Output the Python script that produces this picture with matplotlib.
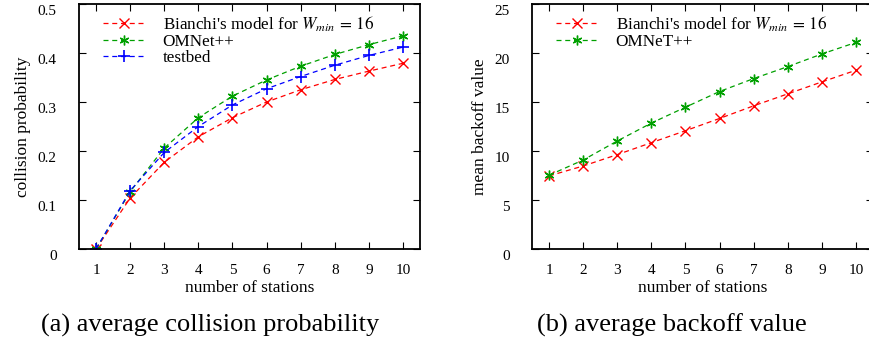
import numpy as np
import matplotlib
matplotlib.use("Agg")
import matplotlib.pyplot as plt
import matplotlib.transforms as mtransforms

plt.rcParams['font.family'] = ['Liberation Serif', 'DejaVu Serif']
plt.rcParams['mathtext.fontset'] = 'stix'

# data
stations = [1, 2, 3, 4, 5, 6, 7, 8, 9, 10]

coll_bianchi = [0.0, 0.104, 0.177, 0.229, 0.268, 0.300, 0.325, 0.346, 0.363, 0.379]
coll_omnet = [0.0, 0.117, 0.206, 0.268, 0.312, 0.345, 0.373, 0.397, 0.417, 0.435]
coll_testbed = [0.0, 0.119, 0.197, 0.250, 0.294, 0.327, 0.352, 0.375, 0.395, 0.412]

backoff_bianchi = [7.46, 8.47, 9.63, 10.85, 12.07, 13.32, 14.61, 15.83, 17.05, 18.24]
backoff_omnet = [7.53, 9.08, 11.02, 12.85, 14.47, 16.07, 17.39, 18.61, 19.90, 21.08]

coll_ticks = [0, 0.1, 0.2, 0.3, 0.4, 0.5]
coll_ticklabels = ['0', '0.1', '0.2', '0.3', '0.4', '0.5']
backoff_ticks = [0, 5, 10, 15, 20, 25]
backoff_ticklabels = ['0', '5', '10', '15', '20', '25']

legend_bianchi = r"Bianchi's model for $W_{min}\,=\,16$"

fig = plt.figure(figsize=(8.7, 3.5), dpi=100)
ax1 = fig.add_axes([79/870, 1-249/350, 341/870, 245/350])
ax2 = fig.add_axes([532/870, 1-249/350, 341/870, 245/350])

mk = dict(markersize=7, linewidth=0.9, markeredgewidth=1.0, dashes=(4, 3))
star = (6, 2, 0)

ax1.plot(stations, coll_bianchi, color='#ff0000', marker='x', label=legend_bianchi, **mk)
ax1.plot(stations, coll_omnet, color='#00a000', marker=star, label='OMNet++', **mk)
ax1.plot(stations, coll_testbed, color='#0000ff', marker='+', label='testbed', markersize=9,
         linewidth=0.9, markeredgewidth=1.2, dashes=(4, 3))

ax2.plot(stations, backoff_bianchi, color='#ff0000', marker='x', label=legend_bianchi, **mk)
ax2.plot(stations, backoff_omnet, color='#00a000', marker=star, label='OMNeT++', **mk)

def style(ax, yticks, ylabels, ymax, ylabel):
    ax.set_xlim(0.5, 10.5)
    ax.set_ylim(0, ymax)
    ax.set_xticks(stations)
    ax.set_yticks(yticks)
    ax.set_yticklabels(ylabels)
    ax.tick_params(direction='in', length=5, width=0.8, top=True, right=True,
                   labelsize=11)
    ax.tick_params(axis='x', pad=11)
    ax.tick_params(axis='y', pad=16)
    for lab in ax.get_yticklabels():
        lab.set_transform(lab.get_transform() + mtransforms.ScaledTranslation(0, -4/72, fig.dpi_scale_trans))
    for sp in ax.spines.values():
        sp.set_linewidth(1.3)
    ax.set_xlabel('number of stations', fontsize=12.5, labelpad=2)
    ax.set_ylabel(ylabel, fontsize=12.5, labelpad=5)
    ax.legend(loc='upper left', frameon=False, fontsize=12.3, handlelength=2.5,
              handletextpad=1.0, labelspacing=0.0, borderaxespad=0.2,
              bbox_to_anchor=(0.04, 1.0))

style(ax1, coll_ticks, coll_ticklabels, 0.5, 'collision probability')
style(ax2, backoff_ticks, backoff_ticklabels, 25, 'mean backoff value')

fig.text(210/870, 1-325/350, '(a) average collision probability', fontsize=19,
         ha='center', va='center')
fig.text(672/870, 1-325/350, '(b) average backoff value', fontsize=19,
         ha='center', va='center')

plt.savefig("out.png", format='png', dpi=100)
